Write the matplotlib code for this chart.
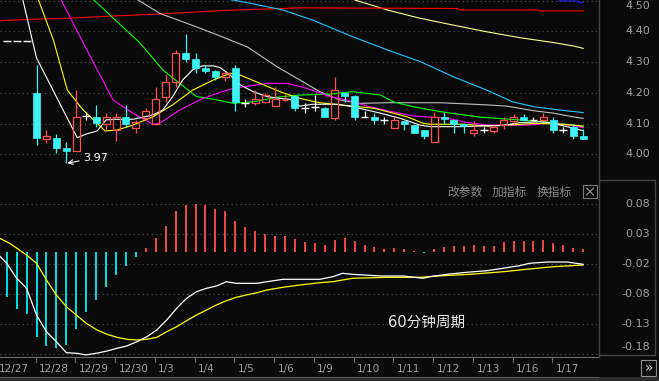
import matplotlib
matplotlib.use('Agg')
import matplotlib.pyplot as plt
from matplotlib.patches import Rectangle
from matplotlib.lines import Line2D

plt.rcParams['font.family'] = ['DejaVu Sans', 'Noto Sans CJK SC']

W, H = 659, 381
BG = '#0a0a0a'
RED = '#ff5050'
CYAN = '#3cf4f4'
GRID = '#555555'
TXT = '#a0a0a0'

# ---- 60 minute candles (4 bars per trading day) ----
opens = [4.369, 4.369, 4.369, 4.200, 4.049, 4.052, 4.021, 4.011, 4.125, 4.120,
         4.099, 4.079, 4.120, 4.087, 4.117, 4.099, 4.188, 4.236, 4.329, 4.309,
         4.282, 4.271, 4.251, 4.280, 4.168, 4.168, 4.170, 4.158, 4.176, 4.190,
         4.152, 4.155, 4.152, 4.119, 4.201, 4.190, 4.120, 4.122, 4.112, 4.087,
         4.110, 4.095, 4.079, 4.039, 4.120, 4.112, 4.099, 4.068, 4.079, 4.077,
         4.095, 4.109, 4.120, 4.112, 4.112, 4.112, 4.079, 4.088, 4.060]
highs = [4.369, 4.369, 4.369, 4.291, 4.079, 4.065, 4.039, 4.209, 4.139, 4.161,
         4.135, 4.134, 4.161, 4.112, 4.150, 4.218, 4.261, 4.340, 4.392, 4.329,
         4.290, 4.275, 4.269, 4.291, 4.180, 4.209, 4.199, 4.218, 4.195, 4.190,
         4.168, 4.193, 4.155, 4.253, 4.201, 4.194, 4.142, 4.133, 4.122, 4.120,
         4.110, 4.095, 4.079, 4.139, 4.139, 4.112, 4.099, 4.109, 4.088, 4.099,
         4.122, 4.131, 4.131, 4.122, 4.134, 4.120, 4.090, 4.099, 4.081]
lows = [4.369, 4.369, 4.369, 4.030, 4.036, 4.003, 3.971, 4.010, 4.111, 4.090,
        4.079, 4.044, 4.088, 4.070, 4.115, 4.095, 4.171, 4.220, 4.302, 4.264,
        4.264, 4.242, 4.240, 4.142, 4.153, 4.161, 4.168, 4.158, 4.172, 4.141,
        4.134, 4.142, 4.122, 4.112, 4.171, 4.112, 4.120, 4.099, 4.099, 4.087,
        4.079, 4.070, 4.050, 4.039, 4.099, 4.070, 4.070, 4.061, 4.070, 4.068,
        4.081, 4.099, 4.112, 4.112, 4.112, 4.070, 4.068, 4.051, 4.051]
closes = [4.369, 4.369, 4.369, 4.052, 4.060, 4.021, 4.012, 4.120, 4.125, 4.101,
          4.120, 4.120, 4.099, 4.106, 4.141, 4.179, 4.236, 4.329, 4.310, 4.282,
          4.272, 4.253, 4.266, 4.171, 4.168, 4.179, 4.193, 4.179, 4.178, 4.152,
          4.152, 4.155, 4.122, 4.209, 4.190, 4.123, 4.120, 4.112, 4.112, 4.112,
          4.098, 4.070, 4.060, 4.120, 4.114, 4.099, 4.092, 4.079, 4.079, 4.088,
          4.112, 4.120, 4.112, 4.112, 4.120, 4.079, 4.079, 4.060, 4.051]

# ---- moving averages (bar index, price) ----
ma5_x = [1.5, 2.1, 3.0, 7.1, 8.0, 9.1, 10.0, 10.9, 12.7, 13.7, 14.7, 15.7, 16.7, 17.7,
         18.7, 19.7, 20.8, 21.5, 22.5, 23.5, 24.8, 26.2, 27.5, 28.5, 29.5, 30.8, 33.2,
         34.8, 37.6, 39.6, 41.6, 42.6, 45.6, 47.6, 49.9, 51.6, 53.6, 54.7, 55.7, 57.0, 58.0]
ma5_y = [4.520, 4.437, 4.314, 4.054, 4.066, 4.076, 4.112, 4.114, 4.114, 4.121, 4.128,
         4.144, 4.188, 4.242, 4.275, 4.288, 4.288, 4.282, 4.258, 4.226, 4.204, 4.188,
         4.182, 4.179, 4.157, 4.163, 4.163, 4.155, 4.134, 4.117, 4.095, 4.090, 4.090,
         4.092, 4.094, 4.103, 4.106, 4.103, 4.095, 4.085, 4.077]
ma10_x = [3.0, 4.7, 6.1, 7.7, 9.9, 11.1, 12.7, 14.7, 16.7, 18.7, 20.8, 22.5, 23.5, 25.5,
          27.5, 29.5, 31.5, 34.8, 36.9, 38.3, 40.3, 41.9, 42.6, 45.9, 48.3, 50.3, 53.3,
          55.0, 57.0, 58.0]
ma10_y = [4.520, 4.372, 4.209, 4.144, 4.076, 4.079, 4.095, 4.122, 4.161, 4.209, 4.242,
          4.264, 4.258, 4.231, 4.204, 4.182, 4.168, 4.157, 4.150, 4.139, 4.122, 4.101,
          4.098, 4.098, 4.092, 4.095, 4.101, 4.099, 4.095, 4.092]
ma20_x = [5.2, 7.7, 10.7, 12.7, 14.7, 15.4, 17.4, 19.4, 21.2, 22.8, 26.2, 28.2, 30.2,
          32.5, 34.2, 36.3, 38.3, 40.9, 42.6, 44.4, 46.4, 48.4, 52.4, 54.5, 55.8, 58.0]
ma20_y = [4.520, 4.363, 4.177, 4.134, 4.098, 4.101, 4.144, 4.177, 4.199, 4.215, 4.231,
          4.231, 4.215, 4.188, 4.177, 4.157, 4.142, 4.125, 4.121, 4.117, 4.103, 4.095,
          4.095, 4.101, 4.099, 4.087]
ma30_x = [8.2, 10.7, 13.4, 15.7, 17.4, 19.1, 21.2, 22.8, 24.8, 27.2, 29.5, 32.5, 34.8,
          37.6, 38.9, 40.9, 43.6, 47.6, 51.6, 55.0, 57.0, 58.0]
ma30_y = [4.520, 4.444, 4.363, 4.275, 4.231, 4.188, 4.177, 4.166, 4.171, 4.186, 4.193,
          4.196, 4.204, 4.193, 4.171, 4.155, 4.139, 4.121, 4.112, 4.103, 4.095, 4.090]
ma60_x = [13.0, 15.4, 18.1, 20.8, 24.2, 27.2, 29.5, 31.5, 33.5, 35.5, 38.3, 43.6, 48.3,
          50.3, 53.0, 55.0, 57.0, 58.0]
ma60_y = [4.507, 4.459, 4.427, 4.394, 4.350, 4.285, 4.242, 4.204, 4.177, 4.166, 4.168,
          4.168, 4.161, 4.157, 4.142, 4.134, 4.122, 4.117]
ma120_x = [22.0, 24.5, 27.8, 30.8, 34.8, 38.3, 41.6, 44.9, 48.3, 50.9, 53.0, 55.7, 58.0]
ma120_y = [4.507, 4.492, 4.470, 4.437, 4.383, 4.340, 4.302, 4.253, 4.209, 4.171, 4.155,
           4.144, 4.136]
ma250_x = [34.6, 38.3, 41.6, 44.9, 48.3, 51.6, 55.0, 57.0, 58.0]
ma250_y = [4.507, 4.470, 4.443, 4.421, 4.399, 4.380, 4.364, 4.353, 4.345]
red_x = [-0.7, 2.6, 6.1, 10.4, 15.4, 21.5, 24.8, 29.5, 45.3, 45.6, 53.5, 53.7, 58.0]
red_y = [4.435, 4.440, 4.443, 4.450, 4.457, 4.468, 4.472, 4.477, 4.475, 4.470, 4.470,
         4.467, 4.467]
blue_x = [55.6, 57.4, 57.7, 58.0]
blue_y = [4.500, 4.499, 4.494, 4.494]

# ---- MACD ----
macd_hist = [-0.076, -0.096, -0.103, -0.142, -0.157, -0.160, -0.155, -0.128, -0.101, -0.080,
             -0.059, -0.039, -0.024, -0.009, 0.006, 0.023, 0.0425, 0.068, 0.0775, 0.080,
             0.0775, 0.072, 0.0675, 0.051, 0.041, 0.034, 0.029, 0.026, 0.026, 0.021,
             0.0167, 0.0147, 0.011, 0.019, 0.023, 0.0175, 0.012, 0.008, 0.0053, 0.0063,
             0.004, 0.001, -0.002, 0.005, 0.008, 0.0097, 0.0097, 0.011, 0.0097, 0.0097,
             0.016, 0.0175, 0.0175, 0.018, 0.019, 0.015, 0.011, 0.0063, 0.0037]
dif_x = [-0.7, 0, 1, 2, 3, 4, 5, 6, 7, 8, 9.1, 10.1, 11.1, 12.1, 13.1, 14.1, 15.1, 16.1,
         17.1, 18.1, 19.1, 20.1, 21.1, 22.1, 23.1, 25.2, 26.2, 27.8, 31.5, 32.8, 33.8,
         34.8, 37.6, 39.9, 41.9, 42.6, 44.3, 46.3, 48.3, 50.3, 51.6, 52.6, 54.4, 56.4, 58.0]
dif_y = [-0.0072, -0.0193, -0.0443, -0.061, -0.1055, -0.1333, -0.150, -0.1683, -0.1693,
         -0.172, -0.169, -0.1655, -0.161, -0.157, -0.150, -0.1417, -0.1305, -0.1138,
         -0.0943, -0.0777, -0.0667, -0.061, -0.0572, -0.050, -0.0527, -0.0527, -0.050,
         -0.046, -0.046, -0.0417, -0.036, -0.0377, -0.0405, -0.0405, -0.0443, -0.0417,
         -0.0377, -0.0343, -0.0317, -0.0267, -0.0233, -0.0193, -0.0172, -0.0172, -0.021]
dea_x = [-0.7, 0.3, 2, 3, 4, 5, 6, 7, 8, 9.1, 10.1, 11.1, 12.1, 13.1, 14.1, 15.1, 16.1,
         17.1, 18.1, 19.1, 20.1, 21.1, 22.1, 23.1, 24.1, 25.2, 26.2, 27.8, 29.5, 31.5,
         32.8, 34.8, 38.3, 41.6, 43.3, 46.6, 50.0, 52.3, 55.0, 58.0]
dea_y = [0.0223, 0.014, -0.0055, -0.0193, -0.0472, -0.0722, -0.0917, -0.1055, -0.1193,
         -0.1305, -0.1377, -0.1427, -0.146, -0.1472, -0.146, -0.1427, -0.1333, -0.125,
         -0.115, -0.1055, -0.0972, -0.0888, -0.0817, -0.076, -0.0722, -0.0683, -0.0638,
         -0.0593, -0.0555, -0.0517, -0.050, -0.0443, -0.0427, -0.0427, -0.0405, -0.0377,
         -0.0333, -0.0293, -0.025, -0.0222]

days = ['12/27', '12/28', '12/29', '12/30', '1/3', '1/4', '1/5', '1/6', '1/9',
        '1/10', '1/11', '1/12', '1/13', '1/16', '1/17']
price_ticks = [4.50, 4.40, 4.30, 4.20, 4.10, 4.00]
macd_ticks = [0.08, 0.03, -0.02, -0.07, -0.12, -0.17]
macd_labels = ['0.08', '0.03', '-0.02', '-0.08', '-0.13', '-0.18']


def fx(x):
    return x / W


def fy(y):
    return 1 - y / H


fig = plt.figure(figsize=(W / 100, H / 100), dpi=100, facecolor=BG)
ax = fig.add_axes([0, fy(178), fx(598), 178 / H])
ax2 = fig.add_axes([0, fy(357), fx(598), 177 / H])

XL = (-0.674, 59.49)
for a in (ax, ax2):
    a.set_facecolor(BG)
    a.set_xlim(*XL)
    a.set_xticks([])
    a.set_yticks([])
    for s in a.spines.values():
        s.set_visible(False)
ax.set_ylim(3.9228, 4.5026)
ax2.set_ylim(-0.1755, 0.1195)
ax2.spines['bottom'].set_visible(True)
ax2.spines['bottom'].set_color('#6a6a6a')

# grids + right labels (top one hangs just below the top edge)
for v in price_ticks:
    ax.axhline(v, color=GRID, lw=0.8, ls=(0, (1, 3)), zorder=1)
    top = v > 4.49
    ax.text(650 / 598, 4.4990 if top else v, '%.2f' % v, transform=ax.get_yaxis_transform(),
            ha='right', va='top' if top else 'center', color=TXT, fontsize=8, clip_on=False)
for v, lab in zip(macd_ticks, macd_labels):
    ax2.axhline(v, color=GRID, lw=0.8, ls=(0, (1, 3)), zorder=1)
    ly = v if v > -0.16 else v + 0.012
    ax2.text(650 / 598, ly, lab, transform=ax2.get_yaxis_transform(),
             ha='right', va='center', color=TXT, fontsize=8, clip_on=False)

# moving averages
lines = [(ma250_x, ma250_y, '#ffff99'), (red_x, red_y, '#ff0000'), (blue_x, blue_y, '#2020ff'),
         (ma120_x, ma120_y, '#20c8ff'), (ma60_x, ma60_y, '#c0c0c0'),
         (ma30_x, ma30_y, '#00ff00'), (ma20_x, ma20_y, '#ff00ff'),
         (ma10_x, ma10_y, '#ffff00'), (ma5_x, ma5_y, '#ffffff')]
for xs, ys, col in lines:
    ax.plot(xs, ys, color=col, lw=0.8, zorder=2)

# candles
bw = 0.7
for i, (o, h, l, c) in enumerate(zip(opens, highs, lows, closes)):
    if c > o:
        ax.add_patch(Rectangle((i - bw / 2, o), bw, c - o, fill=False,
                               edgecolor=RED, lw=0.9, zorder=3))
        ax.vlines(i, c, h, color=RED, lw=0.9, zorder=3)
        ax.vlines(i, l, o, color=RED, lw=0.9, zorder=3)
    elif c < o:
        ax.vlines(i, l, h, color=CYAN, lw=0.9, zorder=3)
        ax.add_patch(Rectangle((i - bw / 2, c), bw, o - c, facecolor=CYAN,
                               edgecolor=CYAN, lw=0.5, zorder=3))
    else:
        ax.hlines(o, i - bw / 2 - 0.05, i + bw / 2 + 0.05, color='white', lw=1.0, zorder=3)
        if h > l:
            ax.vlines(i, l, h, color='white', lw=0.9, zorder=3)

ilow = lows.index(min(lows))
ax.annotate('%.2f' % min(lows), xy=(ilow + 0.1, lows[ilow]), xytext=(7.7, 3.989),
            color='white', fontsize=8, va='center', ha='left',
            arrowprops=dict(arrowstyle='->', color='white', lw=0.8,
                            shrinkA=1, shrinkB=0))

# MACD
hcols = [RED if v > 0 else '#00f0f0' for v in macd_hist]
ax2.vlines(range(len(macd_hist)), 0, macd_hist, colors=hcols, lw=1.3, zorder=2)
ax2.plot(dea_x, dea_y, color='#ffff00', lw=0.9, zorder=3)
ax2.plot(dif_x, dif_y, color='white', lw=0.9, zorder=3)

# date axis
for k, d in enumerate(days):
    start = 4 * k - 1
    if start > XL[0]:
        ax2.plot([start - 0.1] * 2, [0, -0.028], transform=ax2.get_xaxis_transform(),
                 color='#6a6a6a', lw=0.8, clip_on=False)
    ax2.text(start + 0.25, -0.065, d, transform=ax2.get_xaxis_transform(),
             ha='left', va='center', color=TXT, fontsize=7.5, clip_on=False)

# panel frames on the right
fr = '#444444'
for (x0, y0, x1, y1) in [(598.5, 0, 598.5, 357), (598.5, 179.5, 655, 179.5),
                         (655, 179.5, 655, 355), (598.5, 355, 655, 355)]:
    fig.add_artist(Line2D([fx(x0), fx(x1)], [fy(y0), fy(y1)], color=fr, lw=1.0))

# indicator buttons
for txt, x in [('改参数', 447), ('加指标', 492), ('换指标', 537)]:
    fig.text(fx(x), fy(192), txt, color='#8a8a8a', fontsize=8.5, va='center', ha='left')
fig.add_artist(Rectangle((fx(583), fy(198)), fx(14), 13 / H, fill=False,
                         edgecolor='#7a7a7a', lw=0.8))
fig.add_artist(Line2D([fx(586.5), fx(593.5)], [fy(188), fy(195)], color='#9a9a9a', lw=0.8))
fig.add_artist(Line2D([fx(586.5), fx(593.5)], [fy(195), fy(188)], color='#9a9a9a', lw=0.8))

fig.text(fx(388), fy(322), '60分钟周期', color='#e8e8e8', fontsize=10.5, va='center', ha='left')

# bottom strip and scroll button
fig.add_artist(Rectangle((0, 0), 1, 4 / H, facecolor='#2a2a2a', edgecolor='none'))
fig.add_artist(Line2D([0, fx(598)], [fy(377), fy(377)], color='#5a5a5a', lw=0.8))
fig.add_artist(Rectangle((fx(641), fy(376)), fx(15), 16 / H, fill=False,
                         edgecolor='#909090', lw=0.8))
fig.text(fx(648.5), fy(368), '»', color='#d0d0d0', fontsize=10, ha='center', va='center')

fig.savefig('out.png', dpi=100, facecolor=BG)
